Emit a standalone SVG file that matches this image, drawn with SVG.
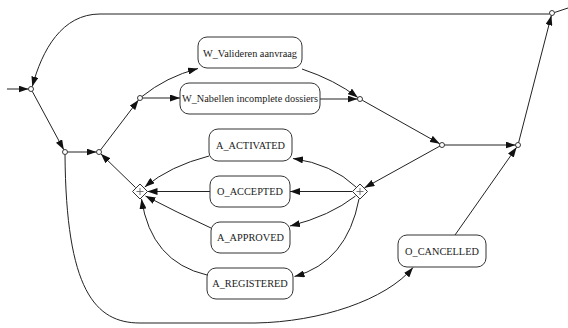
<svg xmlns="http://www.w3.org/2000/svg" width="568" height="328" viewBox="0 0 568 328">
  <style>
    .box { fill: #fff; stroke: #333; stroke-width: 1; }
    .lbl { font-family: "Liberation Serif", "Times New Roman", serif; font-size: 10.3px; fill: #1a1a1a; text-anchor: middle; }
    .pt { fill: #fff; stroke: #222; stroke-width: 0.9; }
    .gw { fill: #fff; stroke: #333; stroke-width: 1; }
    .plus { stroke: #555; stroke-width: 0.8; fill: none; }
    .edge { fill: none; stroke: #222; stroke-width: 1; }
    .arr { marker-end: url(#ah); }
  </style>
  <defs>
    <marker id="ah" markerUnits="userSpaceOnUse" viewBox="0 0 10 7" refX="10" refY="3.5" markerWidth="10" markerHeight="7" orient="auto">
      <path d="M0,0 L10,3.5 L0,7 Z" fill="#111"/>
    </marker>
  </defs>

  <!-- connectors -->
  <g id="edges">
    <path class="edge arr" d="M7,89 L28.5,89"/>
    <path class="edge arr" d="M32.2,91.2 L63.8,149.8"/>
    <path class="edge arr" d="M67.5,152 L96.5,152"/>
    <path class="edge arr" d="M100.5,150 L138.5,100"/>
    <path class="edge arr" d="M142,96.5 Q166,77 198,68.5"/>
    <path class="edge arr" d="M142.5,98 L180,98"/>
    <path class="edge arr" d="M302,69 Q335,80 357.8,97.5"/>
    <path class="edge arr" d="M320,99 L357.5,99"/>
    <path class="edge arr" d="M362.2,100.2 L439.8,143.8"/>
    <path class="edge arr" d="M440,146 L364.5,187.8"/>
    <path class="edge arr" d="M444.5,145 L515.5,145"/>
    <path class="edge arr" d="M518.6,142.6 L551.4,15.4"/>
    <path class="edge arr" d="M549.5,14 L100,14 C62,14 42,50 32.3,86.6"/>
    <path class="edge" d="M554.5,12.5 L568,8"/>
    <path class="edge arr" d="M356,187 Q332,164 293,158.5"/>
    <path class="edge arr" d="M352.5,191.5 L290,191.5"/>
    <path class="edge arr" d="M355.5,196 Q330,216 290,226"/>
    <path class="edge arr" d="M359,199 Q347,262 294.5,276.5"/>
    <path class="edge arr" d="M209,156 Q170,166 144.8,187"/>
    <path class="edge arr" d="M210,191.5 L147.5,191.5"/>
    <path class="edge arr" d="M211,228 Q176,212 145.5,196"/>
    <path class="edge arr" d="M207,275 Q151,262 141.5,199"/>
    <path class="edge arr" d="M135.5,187.5 L100.8,153.8"/>
    <path class="edge arr" d="M65,154.5 C66,290 95,323 140,323 L255,323 C320,322 386,300 413,267.5"/>
    <path class="edge arr" d="M455,235 L516.6,147.3"/>
  </g>

  <!-- routing points -->
  <g id="p1"><circle class="pt" cx="31" cy="89" r="2.5"/></g>
  <g id="p2"><circle class="pt" cx="65" cy="152" r="2.5"/></g>
  <g id="p3"><circle class="pt" cx="99" cy="152" r="2.5"/></g>
  <g id="p4"><circle class="pt" cx="140" cy="98" r="2.5"/></g>
  <g id="p5"><circle class="pt" cx="360" cy="99" r="2.5"/></g>
  <g id="p6"><circle class="pt" cx="442" cy="145" r="2.5"/></g>
  <g id="p7"><circle class="pt" cx="518" cy="145" r="2.5"/></g>
  <g id="p8"><circle class="pt" cx="552" cy="13" r="2.5"/></g>

  <!-- parallel gateways -->
  <g id="and_join">
    <path class="gw" d="M140,184 L147.5,191.5 L140,199 L132.5,191.5 Z"/>
    <path class="plus" d="M136.5,191.5 H143.5 M140,188 V195"/>
  </g>
  <g id="and_split">
    <path class="gw" d="M360,184 L367.5,191.5 L360,199 L352.5,191.5 Z"/>
    <path class="plus" d="M356.5,191.5 H363.5 M360,188 V195"/>
  </g>

  <!-- activities -->
  <g id="w_valideren">
    <rect class="box" x="198" y="37" width="104" height="31" rx="9"/>
    <text class="lbl" x="250" y="56.5">W_Valideren aanvraag</text>
  </g>
  <g id="w_nabellen">
    <rect class="box" x="180" y="83" width="140" height="31" rx="9"/>
    <text class="lbl" x="250" y="102">W_Nabellen incomplete dossiers</text>
  </g>
  <g id="a_activated">
    <rect class="box" x="209" y="129" width="83" height="32" rx="9"/>
    <text class="lbl" x="250.5" y="148.5">A_ACTIVATED</text>
  </g>
  <g id="o_accepted">
    <rect class="box" x="210" y="176" width="80" height="31" rx="9"/>
    <text class="lbl" x="250" y="195">O_ACCEPTED</text>
  </g>
  <g id="a_approved">
    <rect class="box" x="211" y="222" width="79" height="31" rx="9"/>
    <text class="lbl" x="250.5" y="241">A_APPROVED</text>
  </g>
  <g id="a_registered">
    <rect class="box" x="207" y="268" width="86" height="31" rx="9"/>
    <text class="lbl" x="250" y="287">A_REGISTERED</text>
  </g>
  <g id="o_cancelled">
    <rect class="box" x="398" y="235" width="88" height="32" rx="9"/>
    <text class="lbl" x="442" y="254.5">O_CANCELLED</text>
  </g>
</svg>
